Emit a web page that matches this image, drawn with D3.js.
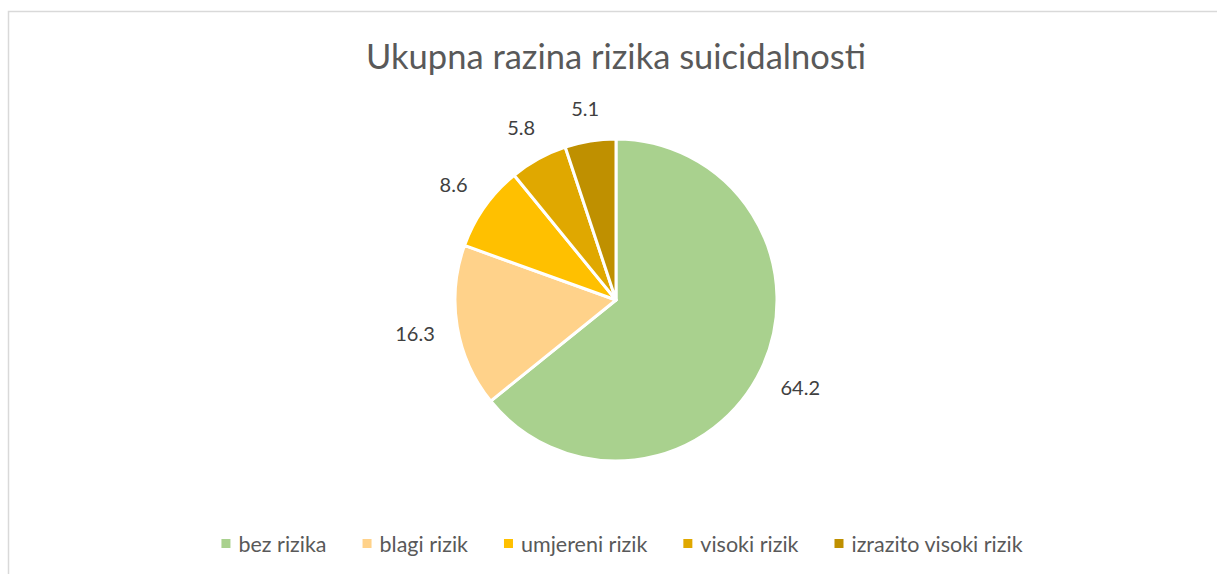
<!DOCTYPE html>
<html>
<head>
<meta charset="utf-8">
<script src="https://cdn.jsdelivr.net/npm/d3@7"></script>
<style>
  body { margin: 0; background: #fff; }
  svg { display: block; font-family: Lato, "Open Sans", sans-serif; }
</style>
</head>
<body>
<svg></svg>
<script>
var width = 1217;
var height = 574;

// chart data
var categories = ['bez rizika', 'blagi rizik', 'umjereni rizik', 'visoki rizik', 'izrazito visoki rizik'];
var values = [64.2, 16.3, 8.6, 5.8, 5.1];
var colors = ['#A9D18E', '#FFD28A', '#FFC000', '#E0A800', '#BF9000'];

var cx = 616, cy = 300, radius = 161;

var svg = d3.select('svg')
    .attr('width', width)
    .attr('height', height);

// chart area border
svg.append('rect')
    .attr('x', 8.5)
    .attr('y', 11.5)
    .attr('width', width + 20)
    .attr('height', height + 20)
    .attr('fill', '#fff')
    .attr('stroke', '#d9d9d9')
    .attr('stroke-width', 1.5);

// title
svg.append('text')
    .text('Ukupna razina rizika suicidalnosti')
    .attr('x', cx)
    .attr('y', 69)
    .attr('text-anchor', 'middle')
    .style('font-size', '34.5px')
    .attr('fill', '#595959');

var pie = d3.pie().sort(null).value(d => d.value);
var arcs = pie(categories.map((c, i) => ({name: c, value: values[i], color: colors[i]})));

var arc = d3.arc().innerRadius(0).outerRadius(radius);

var g = svg.append('g')
    .attr('transform', 'translate(' + cx + ',' + cy + ')');

g.selectAll('path')
    .data(arcs)
    .enter()
    .append('path')
    .attr('d', arc)
    .attr('fill', d => d.data.color)
    .attr('stroke', '#fff')
    .attr('stroke-width', 3)
    .attr('stroke-linejoin', 'round');

// data labels: outside end, pushed out by the label's own extent
g.selectAll('.lbl')
    .data(arcs)
    .enter()
    .append('text')
    .classed('lbl', true)
    .text(d => d.data.value.toFixed(1))
    .attr('text-anchor', 'middle')
    .attr('dy', '0.35em')
    .style('font-size', '20px')
    .attr('fill', '#404040')
    .each(function(d) {
        var a = (d.startAngle + d.endAngle) / 2;
        var sx = Math.sin(a), sy = -Math.cos(a);
        var w = this.getComputedTextLength() / 2, h = 8;
        var r = radius + 22 + Math.abs(sx) * w + Math.abs(sy) * h;
        d3.select(this).attr('x', r * sx).attr('y', r * sy);
    });

// legend
var legend = svg.append('g');
var items = legend.selectAll('g')
    .data(categories)
    .enter()
    .append('g');

items.append('rect')
    .attr('width', 9)
    .attr('height', 9)
    .attr('y', -5)
    .attr('fill', (d, i) => colors[i]);

items.append('text')
    .text(d => d)
    .attr('x', 17)
    .attr('dy', '0.35em')
    .style('font-size', '21.5px')
    .attr('fill', '#595959');

var xPos = 0;
items.each(function() {
    var w = 17 + d3.select(this).select('text').node().getComputedTextLength();
    d3.select(this).attr('transform', 'translate(' + xPos + ',0)');
    xPos += w + 36;
});
var total = xPos - 36;
legend.attr('transform', 'translate(' + (622 - total / 2) + ',544)');
</script>
</body>
</html>
